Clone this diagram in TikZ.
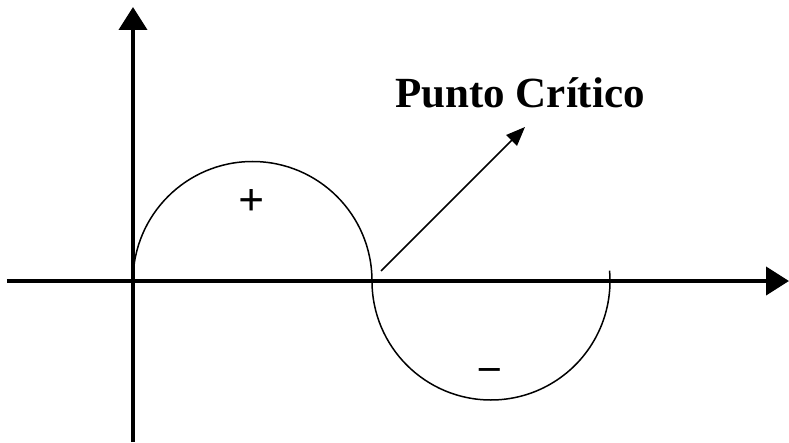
\documentclass[tikz,border=0pt]{standalone}
\usepackage{fontspec}
\setmainfont{Liberation Serif}
\usetikzlibrary{arrows.meta, positioning, calc}

\begin{document}
\begin{tikzpicture}[
  x=1pt, y=1pt,
  axis/.style  = {line width=4pt, -{Triangle[length=23pt, width=28pt]}},
  wave/.style  = {line width=1.5pt},
  pointer/.style = {line width=1.5pt, -{Triangle[length=19pt, width=15pt]}},
  sign/.style  = {font=\fontsize{46}{46}\selectfont\bfseries, inner sep=0pt},
]
  \useasboundingbox (-133,-161) rectangle (656,281);

  % axes
  \coordinate (origin) at (0,0);
  \coordinate (xstart) at (-126,0);
  \coordinate (xend)   at (656,0);
  \coordinate (ystart) at (0,-161);
  \coordinate (yend)   at (0,274);
  \draw[axis] (xstart) -- (xend);
  \draw[axis] (ystart) -- (yend);

  % the wave
  \draw[wave] (origin) arc[start angle=180, end angle=0, radius=119.5]
              coordinate (crit)
              arc[start angle=180, end angle=365, radius=119];

  \node[sign] (plus)  at (119,78)   {+};
  \node[sign, font=\fontsize{41}{41}\selectfont\bfseries] (minus) at (357,-93) {–};

  % label and pointer
  \node[font=\fontsize{43}{43}\selectfont\bfseries, inner sep=0pt, anchor=base]
       (label) at (387,173) {Punto Crítico};
  \coordinate (tail) at ($(crit)+(9,10)$);
  \coordinate (tip)  at (392,154);
  \draw[pointer] (tail) -- (tip);
\end{tikzpicture}
\end{document}
